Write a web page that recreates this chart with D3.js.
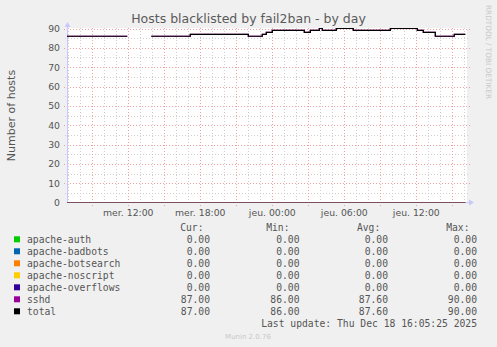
<!DOCTYPE html>
<html><head><meta charset="utf-8">
<script src="https://cdn.jsdelivr.net/npm/d3@7"></script>
<style>
html,body{margin:0;padding:0;background:#f0f0f0;}
svg{display:block;}
text{font-family:"DejaVu Sans",sans-serif;}
.mono{font-family:"DejaVu Sans Mono",monospace;}
</style></head>
<body>
<svg id="c" width="497" height="347"></svg>
<script>
// ---------- data ----------
const title = "Hosts blacklisted by fail2ban - by day";
const yLabel = "Number of hosts";
const timeStart = new Date(2025, 11, 17, 6, 53, 30);
const timeEnd = new Date(+timeStart + 120000 * 1000);
const xTickTimes = [new Date(2025,11,17,12,0), new Date(2025,11,17,18,0), new Date(2025,11,18,0,0), new Date(2025,11,18,6,0), new Date(2025,11,18,12,0)];
const xTickLabels = ["mer. 12:00", "mer. 18:00", "jeu. 00:00", "jeu. 06:00", "jeu. 12:00"];
const yTicks = [0, 10, 20, 30, 40, 50, 60, 70, 80, 90];

// breakpoints (value holds from this time until next breakpoint; null = no data)
const stepTimes = ["2025-12-17T06:53:30","2025-12-17T11:55","2025-12-17T13:55","2025-12-17T17:10","2025-12-17T22:00","2025-12-17T23:10","2025-12-17T23:30","2025-12-18T00:00","2025-12-18T02:40","2025-12-18T03:10","2025-12-18T03:55","2025-12-18T04:10","2025-12-18T05:20","2025-12-18T06:45","2025-12-18T09:50","2025-12-18T12:05","2025-12-18T12:35","2025-12-18T13:35","2025-12-18T15:10","2025-12-18T16:05"];
const sshdValues  = [86, null, 86, 87, 86, 87, 88, 89, 88, 89, 90, 89, 90, 89, 90, 89, 88, 86, 87, 87];
const totalValues = [86, null, 86, 87, 86, 87, 88, 89, 88, 89, 90, 89, 90, 89, 90, 89, 88, 86, 87, 87];
const zeroTimes = ["2025-12-17T06:53:30", "2025-12-18T16:05"];
const apacheAuth = [0, 0];
const apacheBadbots = [0, 0];
const apacheBotsearch = [0, 0];
const apacheNoscript = [0, 0];
const apacheOverflows = [0, 0];

const seriesNames = ["apache-auth","apache-badbots","apache-botsearch","apache-noscript","apache-overflows","sshd","total"];
const seriesColors = ["#00cc00","#0066b3","#ff8000","#ffcc00","#330099","#990099","#000000"];
const curVals = ["0.00","0.00","0.00","0.00","0.00","87.00","87.00"];
const minVals = ["0.00","0.00","0.00","0.00","0.00","86.00","86.00"];
const avgVals = ["0.00","0.00","0.00","0.00","0.00","87.60","87.60"];
const maxVals = ["0.00","0.00","0.00","0.00","0.00","90.00","90.00"];
const lastUpdate = "Last update: Thu Dec 18 16:05:25 2025";
const footer = "Munin 2.0.76";
const sideText = "RRDTOOL / TOBI OETIKER";

// ---------- drawing ----------
const svg = d3.select("#c");
const L = 67, R = 467, T = 28, B = 203;
const parse = d3.timeParse("%Y-%m-%dT%H:%M:%S");
const parse2 = d3.timeParse("%Y-%m-%dT%H:%M");
const pt = s => parse(s) || parse2(s);

const x = d3.scaleTime().domain([timeStart, timeEnd]).range([L, R]);
const y = d3.scaleLinear().domain([0, 90]).range([202.5, 28.5]);

svg.append("rect").attr("width",497).attr("height",347).attr("fill","#f0f0f0");
svg.append("rect").attr("x",L).attr("y",T).attr("width",R-L).attr("height",B-T).attr("fill","#ffffff");

const g = svg.append("g");
const hours = d3.timeHour.every(1).range(timeStart, timeEnd);
// minor vertical grid (hourly)
g.selectAll(".vmin").data(hours.filter(h => h.getHours() % 3 !== 0)).join("line")
  .attr("x1", d => Math.round(x(d)) + 0.5).attr("x2", d => Math.round(x(d)) + 0.5)
  .attr("y1", T).attr("y2", B + 2)
  .attr("stroke", "#cfcfcf").attr("stroke-dasharray", "1,2");
// minor horizontal grid (every 5)
const minorY = d3.range(5, 91, 10);
g.selectAll(".hmin").data(minorY).join("line")
  .attr("x1", L - 2).attr("x2", R + 2)
  .attr("y1", d => Math.round(y(d)) + 0.5).attr("y2", d => Math.round(y(d)) + 0.5)
  .attr("stroke", "#cfcfcf").attr("stroke-dasharray", "1,2");
// major vertical grid (3h)
g.selectAll(".vmaj").data(hours.filter(h => h.getHours() % 3 === 0)).join("line")
  .attr("x1", d => Math.round(x(d)) + 0.5).attr("x2", d => Math.round(x(d)) + 0.5)
  .attr("y1", T).attr("y2", B + 3)
  .attr("stroke", "#f0a0a0").attr("stroke-dasharray", "1,2");
// major horizontal grid
g.selectAll(".hmaj").data(yTicks.filter(v => v > 0)).join("line")
  .attr("x1", L - 3).attr("x2", R + 3)
  .attr("y1", d => Math.round(y(d)) + 0.5).attr("y2", d => Math.round(y(d)) + 0.5)
  .attr("stroke", "#f0a0a0").attr("stroke-dasharray", "1,2");

// y axis line
svg.append("line").attr("x1", L + 0.5).attr("x2", L + 0.5).attr("y1", T - 2).attr("y2", B)
  .attr("stroke", "#c8c8ff");
svg.append("path").attr("d", `M${L-2.5},${T-1}L${L+3.5},${T-1}L${L+0.5},${T-6}Z`).attr("fill", "#c8c8ff");
// x axis line
svg.append("line").attr("x1", L).attr("x2", R + 3).attr("y1", B - 0.5).attr("y2", B - 0.5)
  .attr("stroke", "#c8c8ff");
svg.append("path").attr("d", `M${R+2},${B-3.5}L${R+2},${B+2.5}L${R+7},${B-0.5}Z`).attr("fill", "#c8c8ff");

// series
const zeroSeries = [apacheAuth, apacheBadbots, apacheBotsearch, apacheNoscript, apacheOverflows];
const lineGen = d3.line().defined(d => d.v != null).x(d => x(d.t)).y(d => y(d.v));
function stepPoints(times, vals) {
  const pts = [];
  for (let i = 0; i < times.length - 1; i++) {
    const v = vals[i];
    pts.push({t: pt(times[i]), v: v});
    pts.push({t: pt(times[i+1]), v: v});
  }
  return pts;
}
zeroSeries.forEach((vals, i) => {
  svg.append("path").attr("d", lineGen(stepPoints(zeroTimes, vals)))
    .attr("fill", "none").attr("stroke", seriesColors[i]).attr("stroke-width", 1).attr("stroke-opacity", 0.55);
});
svg.append("path").attr("d", lineGen(stepPoints(stepTimes, sshdValues)))
  .attr("fill", "none").attr("stroke", seriesColors[5]).attr("stroke-width", 1.2);
svg.append("path").attr("d", lineGen(stepPoints(stepTimes, totalValues)))
  .attr("fill", "none").attr("stroke", seriesColors[6]).attr("stroke-width", 1.2);

// tick labels
svg.selectAll(".yl").data(yTicks).join("text")
  .attr("x", 60).attr("y", d => y(d) + 3.4).attr("text-anchor", "end")
  .attr("font-size", "9.3px").attr("fill", "#555").text(d => d);
svg.selectAll(".xl").data(xTickTimes).join("text")
  .attr("x", d => x(d)).attr("y", 215.6).attr("text-anchor", "middle")
  .attr("font-size", "9.3px").attr("fill", "#555").text((d, i) => xTickLabels[i]);

// title, labels
svg.append("text").attr("x", 248.5).attr("y", 23.3).attr("text-anchor", "middle")
  .attr("font-size", "12.5px").attr("fill", "#5a5a5a").text(title);
svg.append("text").attr("transform", "translate(15,115.5) rotate(-90)").attr("text-anchor", "middle")
  .attr("font-size", "11px").attr("fill", "#555").text(yLabel);
svg.append("text").attr("transform", "translate(485.5,5) rotate(90)").attr("text-anchor", "start")
  .attr("font-size", "7.3px").attr("fill", "#c8c8c8").text(sideText);
svg.append("text").attr("x", 248).attr("y", 338.5).attr("text-anchor", "middle")
  .attr("font-size", "7px").attr("fill", "#c8c8c8").text(footer);

// legend
const lf = "9.7px";
const headers = [["Cur:", 203.5], ["Min:", 289.5], ["Avg:", 380.3], ["Max:", 469.5]];
headers.forEach(h => {
  svg.append("text").attr("class", "mono").attr("x", h[1]).attr("y", 231).attr("text-anchor", "end")
    .attr("font-size", lf).attr("fill", "#555").text(h[0]);
});
const cols = [[curVals, 210], [minVals, 299.5], [avgVals, 388], [maxVals, 477]];
seriesNames.forEach((n, i) => {
  const cy = 239.3 + 12 * i;
  svg.append("rect").attr("x", 14).attr("y", cy - 3).attr("width", 6).attr("height", 6).attr("fill", seriesColors[i]);
  svg.append("text").attr("class", "mono").attr("x", 27).attr("y", cy + 3.4)
    .attr("font-size", lf).attr("fill", "#555").text(n);
  cols.forEach(c => {
    svg.append("text").attr("class", "mono").attr("x", c[1]).attr("y", cy + 3.4).attr("text-anchor", "end")
      .attr("font-size", lf).attr("fill", "#555").text(c[0][i]);
  });
});
svg.append("text").attr("class", "mono").attr("x", 477).attr("y", 326.7).attr("text-anchor", "end")
  .attr("font-size", lf).attr("fill", "#555").text(lastUpdate);
</script>
</body></html>
